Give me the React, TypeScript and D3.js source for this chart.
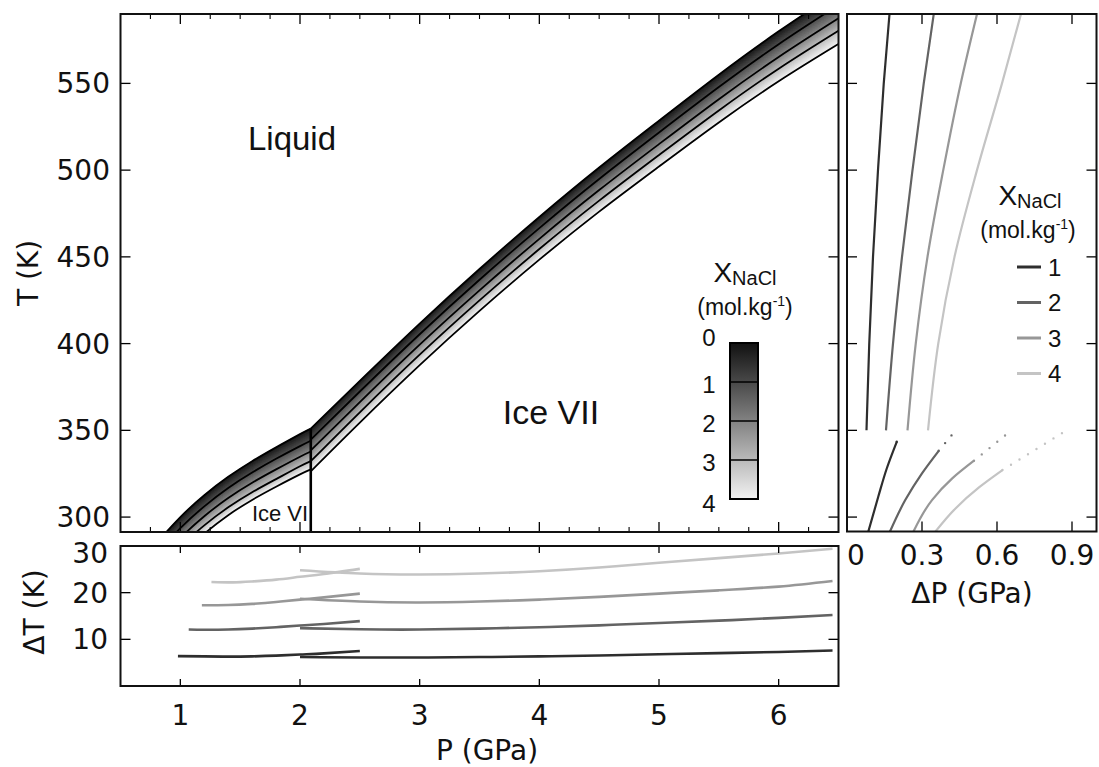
import React from 'react';
import * as d3 from 'd3';

// ---------- Main panel: melting curves T(P) for X_NaCl = 0..4 ----------
const compositions = [0, 1, 2, 3, 4];

const iceVIP = [0.8, 1.0, 1.2, 1.4, 1.6, 1.8, 2.0, 2.09];
const iceVIT0 = [285.0, 300.0, 312.6, 323.2, 332.2, 340.2, 347.8, 351.0];
const iceVIT1 = [278.6, 293.6, 306.2, 316.8, 325.7, 333.6, 340.9, 344.0];
const iceVIT2 = [272.9, 287.9, 300.5, 311.0, 319.8, 327.5, 334.8, 337.8];
const iceVIT3 = [267.7, 282.7, 295.2, 305.6, 314.3, 321.9, 329.3, 332.3];
const iceVIT4 = [262.7, 277.7, 290.4, 301.1, 309.9, 317.5, 324.6, 327.5];

const iceVIIP = [2.09, 2.5, 3.0, 3.5, 4.0, 4.5, 5.0, 5.5, 6.0, 6.5];
const iceVIIT0 = [351.0, 378.5, 411.5, 443.0, 473.0, 501.5, 528.5, 555.0, 580.0, 603.0];
const iceVIIT1 = [344.6, 372.4, 405.4, 436.8, 466.6, 494.9, 521.7, 547.9, 572.6, 595.2];
const iceVIIT2 = [338.4, 366.3, 399.4, 430.7, 460.4, 488.5, 515.0, 540.9, 565.2, 587.5];
const iceVIIT3 = [332.2, 360.4, 393.6, 424.9, 454.5, 482.4, 508.7, 534.4, 558.5, 580.4];
const iceVIIT4 = [326.4, 354.5, 387.6, 418.9, 448.4, 476.1, 502.1, 527.5, 551.2, 572.7];

const iceVIVIIBoundaryP = 2.09;

const tTicks = [300, 350, 400, 450, 500, 550];
const pTicks = [1, 2, 3, 4, 5, 6];
const pMinorTicks = [0.75, 1.25, 1.5, 1.75, 2.25, 2.5, 2.75, 3.25, 3.5, 3.75, 4.25, 4.5, 4.75, 5.25, 5.5, 5.75, 6.25];
const colorbarTicks = [0, 1, 2, 3, 4];

// ---------- Bottom panel: ΔT(P) ----------
const dtVIP1 = [0.98, 1.2, 1.4, 1.6, 1.8, 2.0, 2.2, 2.5];
const dtVI1 = [6.4, 6.35, 6.3, 6.35, 6.5, 6.75, 7.0, 7.5];
const dtVIP2 = [1.07, 1.2, 1.4, 1.6, 1.8, 2.0, 2.2, 2.5];
const dtVI2 = [12.1, 12.05, 12.1, 12.3, 12.6, 12.95, 13.3, 13.9];
const dtVIP3 = [1.18, 1.4, 1.6, 1.8, 2.0, 2.2, 2.5];
const dtVI3 = [17.3, 17.35, 17.6, 18.0, 18.5, 19.0, 19.8];
const dtVIP4 = [1.26, 1.44, 1.6, 1.8, 2.0, 2.2, 2.5];
const dtVI4 = [22.3, 22.2, 22.4, 22.8, 23.4, 24.0, 25.1];

const dtVIIP = [2.0, 2.5, 3.0, 3.5, 4.0, 4.5, 5.0, 5.5, 6.0, 6.45];
const dtVII1 = [6.2, 6.1, 6.1, 6.2, 6.35, 6.55, 6.8, 7.05, 7.3, 7.6];
const dtVII2 = [12.4, 12.15, 12.1, 12.3, 12.6, 13.0, 13.5, 14.0, 14.6, 15.2];
const dtVII3 = [18.7, 18.1, 17.9, 18.1, 18.5, 19.1, 19.8, 20.5, 21.3, 22.5];
const dtVII4 = [24.8, 24.1, 23.9, 24.1, 24.6, 25.4, 26.4, 27.4, 28.4, 29.4];
const dtTicks = [10, 20, 30];

// ---------- Right panel: ΔP(T) ----------
const dpVIIT = [350, 400, 450, 500, 550, 590];
const dpVII1 = [0.078, 0.089, 0.104, 0.124, 0.147, 0.170];
const dpVII2 = [0.156, 0.184, 0.220, 0.262, 0.307, 0.347];
const dpVII3 = [0.242, 0.275, 0.322, 0.385, 0.455, 0.520];
const dpVII4 = [0.324, 0.365, 0.430, 0.520, 0.620, 0.696];

const dpVIT1 = [291.5, 311.7, 328.0, 343.4];
const dpVI1 = [0.085, 0.125, 0.159, 0.199];
const dpVIT2 = [291.7, 309.8, 325.2, 338.2];
const dpVI2 = [0.172, 0.233, 0.300, 0.367];
const dpVIT3 = [291.7, 309.8, 322.3, 332.5];
const dpVI3 = [0.266, 0.340, 0.421, 0.508];
const dpVIT4 = [291.7, 305.0, 317.1, 327.1];
const dpVI4 = [0.354, 0.434, 0.528, 0.622];

const dpDotEndT = [348.6, 347.1, 347.5, 349.3];
const dpDotEndP = [0.213, 0.418, 0.636, 0.870];
const dpTicks = [0, 0.3, 0.6, 0.9];

const legendLabels = ['1', '2', '3', '4'];
const seriesColors = ['#2e2e2e', '#636363', '#979797', '#c4c4c4'];

// ---------- Layout ----------
const W = 1099;
const H = 767;
const main = { l: 120.5, r: 838.5, t: 14, b: 532 };
const bot = { l: 120.5, r: 838.5, t: 546, b: 686 };
const side = { l: 847, r: 1096.5, t: 14, b: 531.5 };

const DV = 'DejaVu Sans, sans-serif';
const HV = 'Liberation Sans, Arial, Helvetica, sans-serif';

export default function App() {
  const xP = d3.scaleLinear().domain([0.5, 6.5]).range([main.l, main.r]);
  const yT = d3.scaleLinear().domain([291.4, 590]).range([main.b, main.t]);
  const yDT = d3.scaleLinear().domain([0, 30]).range([bot.b, bot.t]);
  const xDP = d3.scaleLinear().domain([0, 1.0]).range([side.l, side.r + 0.5]);
  const yCB = d3.scaleLinear().domain([0, 4]).range([343, 499]);
  const grey = d3.scaleLinear<string>().domain([0, 4]).range(['#111111', '#f2f2f2']).interpolate(d3.interpolateRgb);

  const viCurves = [iceVIT0, iceVIT1, iceVIT2, iceVIT3, iceVIT4];
  const viiCurves = [iceVIIT0, iceVIIT1, iceVIIT2, iceVIIT3, iceVIIT4];

  const N = 18;
  const bands: { d: string; c: string }[] = [];
  const lines: string[] = [];
  [[iceVIP, viCurves], [iceVIIP, viiCurves]].forEach(([P, curves]: any) => {
    for (let k = 0; k < compositions.length - 1; k++) {
      const a = curves[k] as number[];
      const b = curves[k + 1] as number[];
      for (let j = 0; j < N; j++) {
        const f0 = j / N;
        const f1 = (j + 1) / N;
        const area = d3
          .area<number>()
          .x((_, i) => xP(P[i]))
          .y0((_, i) => yT(a[i] + (b[i] - a[i]) * f0))
          .y1((_, i) => yT(a[i] + (b[i] - a[i]) * f1))
          .curve(d3.curveNatural);
        bands.push({ d: area(a) as string, c: grey(compositions[k] + (j + 0.5) / N) });
      }
    }
    curves.forEach((c: number[]) => {
      const ln = d3
        .line<number>()
        .x((_, i) => xP(P[i]))
        .y((d) => yT(d))
        .curve(d3.curveNatural);
      lines.push(ln(c) as string);
    });
  });

  const dtLine = (P: number[], v: number[]) =>
    d3
      .line<number>()
      .x((_, i) => xP(P[i]))
      .y((d) => yDT(d))
      .curve(d3.curveNatural)(v) as string;

  const dtVI = [
    [dtVIP1, dtVI1],
    [dtVIP2, dtVI2],
    [dtVIP3, dtVI3],
    [dtVIP4, dtVI4],
  ];
  const dtVII = [dtVII1, dtVII2, dtVII3, dtVII4];

  const dpLine = (T: number[], v: number[]) =>
    d3
      .line<number>()
      .x((d) => xDP(d))
      .y((_, i) => yT(T[i]))
      .curve(d3.curveMonotoneY)(v) as string;

  const dpVII = [dpVII1, dpVII2, dpVII3, dpVII4];
  const dpVI = [
    [dpVIT1, dpVI1],
    [dpVIT2, dpVI2],
    [dpVIT3, dpVI3],
    [dpVIT4, dpVI4],
  ];

  return (
    <svg width={W} height={H} style={{ position: 'absolute', left: 0, top: 0, background: '#fff' }}>
      <defs>
        <clipPath id="clipMain">
          <rect x={main.l} y={main.t} width={main.r - main.l} height={main.b - main.t} />
        </clipPath>
        <clipPath id="clipBot">
          <rect x={bot.l} y={bot.t} width={bot.r - bot.l} height={bot.b - bot.t} />
        </clipPath>
        <clipPath id="clipSide">
          <rect x={side.l} y={side.t} width={side.r - side.l} height={side.b - side.t} />
        </clipPath>
        <linearGradient id="cbGrad" x1="0" y1="0" x2="0" y2="1">
          {colorbarTicks.map((v) => (
            <stop key={v} offset={`${(v / 4) * 100}%`} stopColor={grey(v)} />
          ))}
        </linearGradient>
      </defs>
      <rect x={0} y={0} width={W} height={H} fill="#fff" />

      {/* ===== Main panel ===== */}
      <g clipPath="url(#clipMain)">
        {bands.map((b, i) => (
          <path key={i} d={b.d} fill={b.c} stroke={b.c} strokeWidth={0.6} />
        ))}
        {lines.map((d, i) => (
          <path key={i} d={d} fill="none" stroke="#000" strokeWidth={1.8} />
        ))}
        <line
          x1={xP(iceVIVIIBoundaryP)}
          x2={xP(iceVIVIIBoundaryP)}
          y1={main.b}
          y2={yT(iceVIT0[iceVIT0.length - 1])}
          stroke="#000"
          strokeWidth={2.6}
        />
      </g>
      {tTicks.map((t) => (
        <g key={t}>
          <line x1={main.l} x2={main.l + 10} y1={yT(t)} y2={yT(t)} stroke="#000" strokeWidth={1.3} />
          <line x1={main.r} x2={main.r - 10} y1={yT(t)} y2={yT(t)} stroke="#000" strokeWidth={1.3} />
          <text x={110} y={yT(t)} dy="0.36em" textAnchor="end" fontFamily={DV} fontSize={28} fill="#111">
            {t}
          </text>
        </g>
      ))}
      {pTicks.map((p) => (
        <g key={p}>
          <line x1={xP(p)} x2={xP(p)} y1={main.t} y2={main.t + 10} stroke="#000" strokeWidth={1.3} />
          <line x1={xP(p)} x2={xP(p)} y1={main.b} y2={main.b - 10} stroke="#000" strokeWidth={1.3} />
        </g>
      ))}
      {pMinorTicks.map((p) => (
        <g key={p}>
          <line x1={xP(p)} x2={xP(p)} y1={main.t} y2={main.t + 5} stroke="#000" strokeWidth={1.1} />
          <line x1={xP(p)} x2={xP(p)} y1={main.b} y2={main.b - 5} stroke="#000" strokeWidth={1.1} />
        </g>
      ))}
      <rect x={main.l} y={main.t} width={main.r - main.l} height={main.b - main.t} fill="none" stroke="#111" strokeWidth={2} />
      <text x={28} y={(main.t + main.b) / 2} transform={`rotate(-90 28 ${(main.t + main.b) / 2})`} dy="0.36em" textAnchor="middle" fontFamily={DV} fontSize={28} fill="#111">
        T (K)
      </text>
      <text x={292} y={138} dy="0.36em" textAnchor="middle" fontFamily={HV} fontSize={33} fill="#111">
        Liquid
      </text>
      <text x={551} y={412} dy="0.36em" textAnchor="middle" fontFamily={HV} fontSize={34} fill="#111">
        Ice VII
      </text>
      <text x={280} y={513} dy="0.36em" textAnchor="middle" fontFamily={HV} fontSize={22} fill="#111">
        Ice VI
      </text>

      {/* colorbar */}
      <text x={745} y={282} textAnchor="middle" fontFamily={HV} fill="#111">
        <tspan fontSize={28}>X</tspan>
        <tspan fontSize={20} dy={3}>NaCl</tspan>
      </text>
      <text x={745} y={315} textAnchor="middle" fontFamily={HV} fontSize={23} fill="#111">
        (mol.kg<tspan fontSize={14} dy={-9}>-1</tspan>
        <tspan dy={9}>)</tspan>
      </text>
      <rect x={730} y={yCB(0)} width={28} height={yCB(4) - yCB(0)} fill="url(#cbGrad)" />
      {colorbarTicks.slice(1, 4).map((v) => (
        <line key={v} x1={730} x2={758} y1={yCB(v)} y2={yCB(v)} stroke="#000" strokeWidth={1.5} />
      ))}
      <rect x={730} y={yCB(0)} width={28} height={yCB(4) - yCB(0)} fill="none" stroke="#000" strokeWidth={2} />
      {colorbarTicks.map((v) => (
        <text key={v} x={709} y={yCB(v) + (v === 0 ? -6 : v === 4 ? 4 : 2)} dy="0.36em" textAnchor="middle" fontFamily={HV} fontSize={24} fill="#111">
          {v}
        </text>
      ))}

      {/* ===== Bottom panel ===== */}
      <g clipPath="url(#clipBot)">
        {dtVI.map(([P, v], i) => (
          <path key={'vi' + i} d={dtLine(P, v)} fill="none" stroke={seriesColors[i]} strokeWidth={2.6} />
        ))}
        {dtVII.map((v, i) => (
          <path key={'vii' + i} d={dtLine(dtVIIP, v)} fill="none" stroke={seriesColors[i]} strokeWidth={2.6} />
        ))}
      </g>
      {dtTicks.map((t) => (
        <g key={t}>
          {t < 30 && <line x1={bot.l} x2={bot.l + 10} y1={yDT(t)} y2={yDT(t)} stroke="#000" strokeWidth={1.3} />}
          {t < 30 && <line x1={bot.r} x2={bot.r - 10} y1={yDT(t)} y2={yDT(t)} stroke="#000" strokeWidth={1.3} />}
          <text x={108} y={yDT(t) + (t === 30 ? 7 : 0)} dy="0.36em" textAnchor="end" fontFamily={DV} fontSize={28} fill="#111">
            {t}
          </text>
        </g>
      ))}
      {pTicks.map((p) => (
        <g key={p}>
          <line x1={xP(p)} x2={xP(p)} y1={bot.t} y2={bot.t + 7} stroke="#000" strokeWidth={1.3} />
          <line x1={xP(p)} x2={xP(p)} y1={bot.b} y2={bot.b - 7} stroke="#000" strokeWidth={1.3} />
          <text x={xP(p)} y={715} dy="0.36em" textAnchor="middle" fontFamily={DV} fontSize={28} fill="#111">
            {p}
          </text>
        </g>
      ))}
      <rect x={bot.l} y={bot.t} width={bot.r - bot.l} height={bot.b - bot.t} fill="none" stroke="#111" strokeWidth={2} />
      <text x={34} y={612} transform={`rotate(-90 34 612)`} dy="0.36em" textAnchor="middle" fontFamily={DV} fontSize={28} fill="#111">
        ΔT (K)
      </text>
      <text x={487} y={750} dy="0.36em" textAnchor="middle" fontFamily={DV} fontSize={28} fill="#111">
        P (GPa)
      </text>

      {/* ===== Right panel ===== */}
      <g clipPath="url(#clipSide)">
        {dpVII.map((v, i) => (
          <path key={'u' + i} d={dpLine(dpVIIT, v)} fill="none" stroke={seriesColors[i]} strokeWidth={2.2} />
        ))}
        {dpVI.map(([T, v], i) => (
          <g key={'l' + i}>
            <path d={dpLine(T, v)} fill="none" stroke={seriesColors[i]} strokeWidth={2.2} />
            <line
              x1={xDP(v[v.length - 1])}
              y1={yT(T[T.length - 1])}
              x2={xDP(dpDotEndP[i])}
              y2={yT(dpDotEndT[i])}
              stroke={seriesColors[i]}
              strokeWidth={2.4}
              strokeLinecap="round"
              strokeDasharray="0 10"
            />
          </g>
        ))}
      </g>
      {tTicks.map((t) => (
        <g key={t}>
          <line x1={side.l} x2={side.l + 10} y1={yT(t)} y2={yT(t)} stroke="#000" strokeWidth={1.3} />
          <line x1={side.r} x2={side.r - 10} y1={yT(t)} y2={yT(t)} stroke="#000" strokeWidth={1.3} />
        </g>
      ))}
      {dpTicks.map((p) => (
        <g key={p}>
          {p > 0 && <line x1={xDP(p)} x2={xDP(p)} y1={side.t} y2={side.t + 10} stroke="#000" strokeWidth={1.3} />}
          {p > 0 && <line x1={xDP(p)} x2={xDP(p)} y1={side.b} y2={side.b - 10} stroke="#000" strokeWidth={1.3} />}
          <text x={xDP(p)} y={555} dy="0.36em" textAnchor={p === 0 ? 'start' : 'middle'} fontFamily={DV} fontSize={28} fill="#111">
            {p}
          </text>
        </g>
      ))}
      <rect x={side.l} y={side.t} width={side.r - side.l} height={side.b - side.t} fill="none" stroke="#111" strokeWidth={2} />
      <text x={972} y={593} dy="0.36em" textAnchor="middle" fontFamily={DV} fontSize={28} fill="#111">
        ΔP (GPa)
      </text>

      {/* legend */}
      <text x={1030} y={205} textAnchor="middle" fontFamily={HV} fill="#111">
        <tspan fontSize={28}>X</tspan>
        <tspan fontSize={20} dy={3}>NaCl</tspan>
      </text>
      <text x={1028} y={238} textAnchor="middle" fontFamily={HV} fontSize={23} fill="#111">
        (mol.kg<tspan fontSize={14} dy={-9}>-1</tspan>
        <tspan dy={9}>)</tspan>
      </text>
      {legendLabels.map((lab, i) => (
        <g key={lab}>
          <line x1={1017} x2={1041} y1={267 + i * 35.5} y2={267 + i * 35.5} stroke={seriesColors[i]} strokeWidth={3} />
          <text x={1048} y={267 + i * 35.5} dy="0.36em" fontFamily={HV} fontSize={24} fill="#111">
            {lab}
          </text>
        </g>
      ))}
    </svg>
  );
}
